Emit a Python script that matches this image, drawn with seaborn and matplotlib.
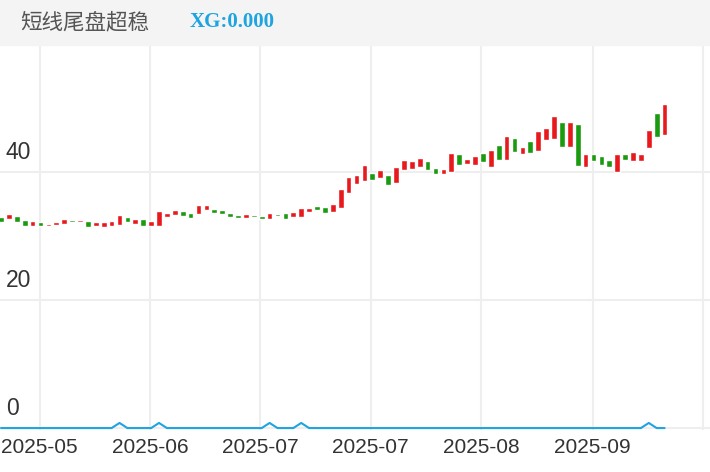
import matplotlib
matplotlib.use("Agg")
import matplotlib.pyplot as plt
import seaborn as sns
import numpy as np
import pandas as pd
from matplotlib.patches import Rectangle

opens = [33.0,32.7,33.1,32.4,31.6,32.2,31.5,31.7,31.8,32.4,32.1,32.3,31.5,31.4,31.6,31.7,32.9,31.9,32.7,31.6,
         31.6,33.0,33.2,33.9,33.6,33.4,34.0,34.2,34.0,33.6,33.3,32.8,33.3,33.1,32.7,33.4,33.5,32.9,33.0,33.7,
         34.6,34.5,33.7,34.4,36.7,38.1,38.6,39.8,39.0,39.5,38.2,40.2,40.5,40.7,41.6,40.6,39.6,40.0,42.7,41.2,
         41.0,43.0,40.8,44.2,41.8,45.2,42.8,44.8,43.2,45.0,45.1,47.7,43.8,47.5,40.7,42.8,42.4,41.9,40.0,42.8,
         41.6,41.7,43.7,49.2,45.7]
closes = [32.2,33.4,32.2,31.5,32.3,31.6,31.9,32.2,32.7,32.1,32.5,31.4,32.1,32.2,32.3,33.3,32.2,32.7,31.6,32.3,
          33.9,33.5,34.1,33.1,32.8,34.8,34.8,33.5,33.4,32.9,32.8,33.4,32.9,32.7,33.5,33.1,32.7,33.7,34.3,34.4,
          34.0,33.6,35.0,37.3,39.1,39.5,41.0,38.75,40.3,38.0,40.8,41.8,41.6,42.2,40.2,39.6,40.5,43.0,41.0,42.0,
          42.5,41.45,43.4,41.8,45.6,43.1,43.9,42.9,46.4,46.9,48.75,43.9,47.7,40.9,42.8,41.7,41.0,40.8,42.8,41.8,
          43.1,42.7,46.5,45.4,50.5]
xg = [0.0]*85
for i in (15, 20, 34, 38, 82):
    xg[i] = 0.8
tick_pos = [4.9, 18.9, 32.8, 46.8, 60.8, 74.9]
tick_labels = ["2025-05", "2025-06", "2025-07", "2025-07", "2025-08", "2025-09"]
grid_x = [4.9, 18.9, 32.8, 46.8, 60.8, 74.9, 88.9]

sns.set_theme(style="white")
plt.rcParams['font.family'] = ['Noto Sans CJK SC', 'DejaVu Sans']
num_font = ["Liberation Sans", "DejaVu Sans"]

fig = plt.figure(figsize=(7.1, 4.72), dpi=100)
fig.patches.append(Rectangle((0, 0.905), 1, 0.095, transform=fig.transFigure, color="#f4f4f4", zorder=0))
fig.text(0.028, 0.953, "短线尾盘超稳", fontsize=15.5, color="#555555", va="center")
fig.text(0.267, 0.953, "XG:0.000", fontsize=15, color="#1ea4e0", va="center",
         fontweight="bold", family=["Liberation Serif", "DejaVu Serif"])

ax = fig.add_axes([0, 0.089, 1, 0.816])
df = pd.DataFrame({"i": np.arange(len(opens)), "o": opens, "c": closes, "xg": xg})
lo = np.minimum(df.o, df.c)
hi = np.maximum(df.o, df.c)
cols = ["#e8191c" if c >= o else "#1a9a0e" for o, c in zip(df.o, df.c)]
ax.bar(df.i, hi - lo, bottom=lo, width=0.72, color=cols, zorder=3)

for gx in grid_x:
    ax.axvline(gx, color="#eeeeee", lw=1.5, zorder=1)
for gy in (0, 20, 40):
    ax.axhline(gy, color="#eeeeee", lw=1.5, zorder=1)
sns.lineplot(data=df, x="i", y="xg", ax=ax, color="#1ea4e0", lw=1.5, zorder=4)

for v in (0, 20, 40):
    ax.text(0.6, v + 1.2, str(v), fontsize=16.5, color="#333333", va="bottom", ha="left", family=num_font)

ax.set_xlim(-0.13, 89.75)
ax.set_ylim(-0.3, 59.8)
ax.set_yticks([])
ax.set_xticks(tick_pos)
ax.set_xticklabels(tick_labels, fontsize=15, color="#333333", family=num_font)
ax.tick_params(axis="x", length=0, pad=6)
ax.set_xlabel("")
ax.set_ylabel("")
for s in ax.spines.values():
    s.set_visible(False)

fig.savefig("out.png", dpi=100)
